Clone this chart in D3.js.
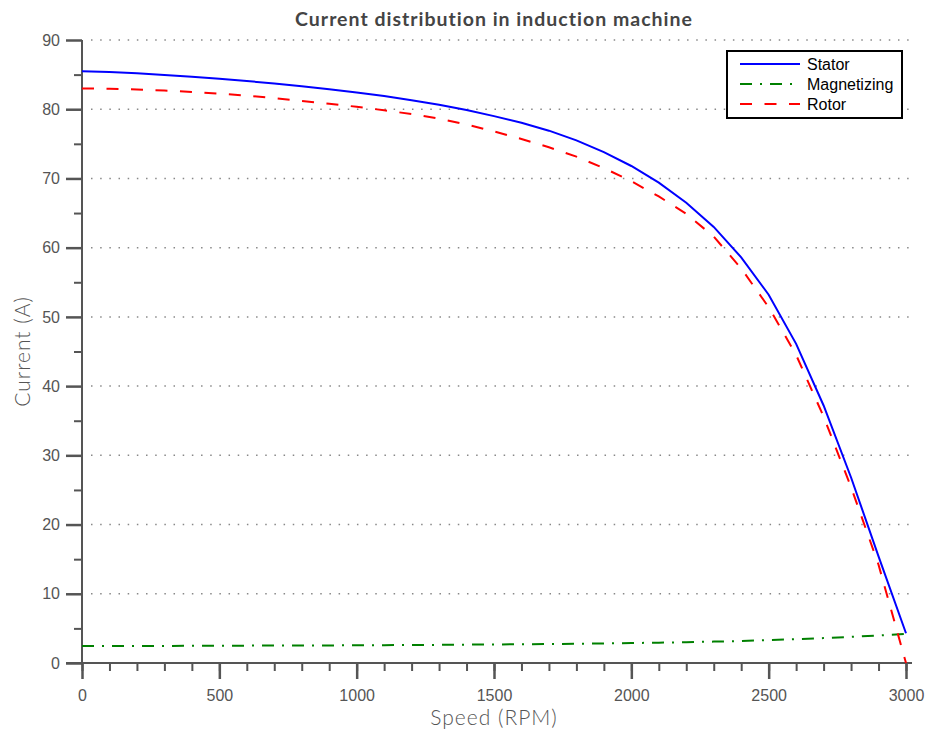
<!DOCTYPE html>
<html>
<head>
<meta charset="utf-8">
<title>Current distribution in induction machine</title>
<script src="https://d3js.org/d3.v7.min.js"></script>
<style>
  body { margin: 0; background: #fff; }
  svg { display: block; }
  .tick text { font-family: "Liberation Sans", Arial, sans-serif; font-size: 16px; fill: #555; }
</style>
</head>
<body>
<svg id="chart" width="928" height="733"></svg>
<script>
// speed in rpm, one point every 100 rpm
const speed = d3.range(0, 3001, 100);

const stator = [85.5, 85.36, 85.18, 84.96, 84.70, 84.40, 84.08, 83.72, 83.32, 82.88,
  82.40, 81.9, 81.3, 80.65, 79.9, 79.0, 78.05, 76.9, 75.5, 73.8,
  71.8, 69.4, 66.5, 63.0, 58.6, 53.2, 46.1, 37.2, 26.8, 15.4, 4.3];

const rotor = [83.0, 82.95, 82.85, 82.7, 82.5, 82.25, 81.95, 81.6, 81.2, 80.8,
  80.35, 79.85, 79.3, 78.65, 77.8, 76.8, 75.7, 74.5, 73.15, 71.5,
  69.6, 67.4, 64.9, 61.6, 57.0, 51.4, 44.5, 35.6, 25.4, 14.2, 0.0];

const magnetizing = [2.45, 2.45, 2.46, 2.47, 2.48, 2.50, 2.51, 2.52, 2.53, 2.54,
  2.56, 2.58, 2.60, 2.62, 2.65, 2.68, 2.71, 2.74, 2.78, 2.83,
  2.88, 2.94, 3.01, 3.09, 3.18, 3.30, 3.44, 3.60, 3.78, 3.98, 4.20];

const xMajor = [0, 500, 1000, 1500, 2000, 2500, 3000];
const yMajor = [0, 10, 20, 30, 40, 50, 60, 70, 80, 90];

const seriesNames = ["Stator", "Magnetizing", "Rotor"];

const styles = {
  Stator: { color: "#0000ff", dash: null },
  Magnetizing: { color: "#008000", dash: "12,8,2,8" },
  Rotor: { color: "#ff0000", dash: "12,12.5" }
};

const svg = d3.select("#chart");
const axisColor = "#555";

const x = d3.scaleLinear().domain([0, 3000]).range([82, 906]);
const y = d3.scaleLinear().domain([0, 90]).range([663, 40]);

// dotted grid
svg.append("g").selectAll("line")
  .data(yMajor.filter(d => d > 0))
  .join("line")
  .attr("x1", x(0) + 9).attr("x2", x(3000) + 7)
  .attr("y1", d => y(d)).attr("y2", d => y(d))
  .attr("stroke", "#888").attr("stroke-width", 1.5)
  .attr("stroke-dasharray", "1.5,7.67");

// minor ticks
svg.append("g")
  .attr("transform", "translate(0," + y(0) + ")")
  .call(d3.axisBottom(x).tickValues(d3.range(0, 3001, 100)).tickSize(8).tickFormat(""))
  .call(g => g.select(".domain").remove())
  .selectAll("line").attr("stroke", axisColor).attr("stroke-width", 2);

svg.append("g")
  .attr("transform", "translate(" + x(0) + ",0)")
  .call(d3.axisLeft(y).tickValues(d3.range(5, 90, 10)).tickSize(8).tickFormat(""))
  .call(g => g.select(".domain").remove())
  .selectAll("line").attr("stroke", axisColor).attr("stroke-width", 2);

// major ticks with labels
const xAxis = svg.append("g")
  .attr("transform", "translate(0," + y(0) + ")")
  .call(d3.axisBottom(x).tickValues(xMajor).tickSize(16).tickPadding(11).tickFormat(d3.format("d")));
xAxis.select(".domain").remove();
xAxis.selectAll("line").attr("stroke", axisColor).attr("stroke-width", 2.5);

const yAxis = svg.append("g")
  .attr("transform", "translate(" + x(0) + ",0)")
  .call(d3.axisLeft(y).tickValues(yMajor).tickSize(16).tickPadding(6));
yAxis.select(".domain").remove();
yAxis.selectAll("line").attr("stroke", axisColor).attr("stroke-width", 2.5);

// axis lines
svg.append("line")
  .attr("x1", x(0) - 16).attr("x2", x(3000) + 6)
  .attr("y1", y(0)).attr("y2", y(0))
  .attr("stroke", axisColor).attr("stroke-width", 2);
svg.append("line")
  .attr("x1", x(0)).attr("x2", x(0))
  .attr("y1", y(0)).attr("y2", y(90))
  .attr("stroke", axisColor).attr("stroke-width", 2);

// curves
const values = { Stator: stator, Magnetizing: magnetizing, Rotor: rotor };
const line = d3.line().x((d, i) => x(speed[i])).y(d => y(d));

seriesNames.forEach(name => {
  svg.append("path")
    .datum(values[name])
    .attr("d", line)
    .attr("fill", "none")
    .attr("stroke", styles[name].color)
    .attr("stroke-width", 2)
    .attr("stroke-dasharray", styles[name].dash);
});

// title and labels
svg.append("text")
  .attr("x", (x(0) + x(3000)) / 2).attr("y", 26)
  .attr("text-anchor", "middle")
  .style("font-family", "Lato, 'Open Sans', sans-serif")
  .style("font-weight", "bold").style("font-size", "19.5px")
  .style("letter-spacing", "1px")
  .style("fill", "#444")
  .text("Current distribution in induction machine");

svg.append("text")
  .attr("x", (x(0) + x(3000)) / 2).attr("y", 725)
  .attr("text-anchor", "middle")
  .style("font-family", "Lato, 'Open Sans', sans-serif")
  .style("font-weight", "300").style("font-size", "21px")
  .style("letter-spacing", "1px")
  .style("fill", "#555")
  .text("Speed (RPM)");

svg.append("text")
  .attr("transform", "translate(30," + (y(0) + y(90)) / 2 + ") rotate(-90)")
  .attr("text-anchor", "middle")
  .style("font-family", "Lato, 'Open Sans', sans-serif")
  .style("font-weight", "300").style("font-size", "21px")
  .style("letter-spacing", "1px")
  .style("fill", "#555")
  .text("Current (A)");

// legend
const legend = svg.append("g").attr("transform", "translate(727,51)");
legend.append("rect")
  .attr("width", 175).attr("height", 67)
  .attr("fill", "#fff").attr("stroke", "#000").attr("stroke-width", 2);

const row = legend.selectAll("g.row")
  .data(seriesNames)
  .join("g")
  .attr("class", "row")
  .attr("transform", (d, i) => "translate(0," + (13 + i * 20) + ")");

row.append("line")
  .attr("x1", 13).attr("x2", 73)
  .attr("stroke", d => styles[d].color)
  .attr("stroke-width", 2)
  .attr("stroke-dasharray", d => styles[d].dash);

row.append("text")
  .attr("x", 80).attr("dy", "0.35em")
  .style("font-family", "'Liberation Sans', Arial, sans-serif")
  .style("font-size", "16px")
  .style("fill", "#000")
  .text(d => d);
</script>
</body>
</html>
